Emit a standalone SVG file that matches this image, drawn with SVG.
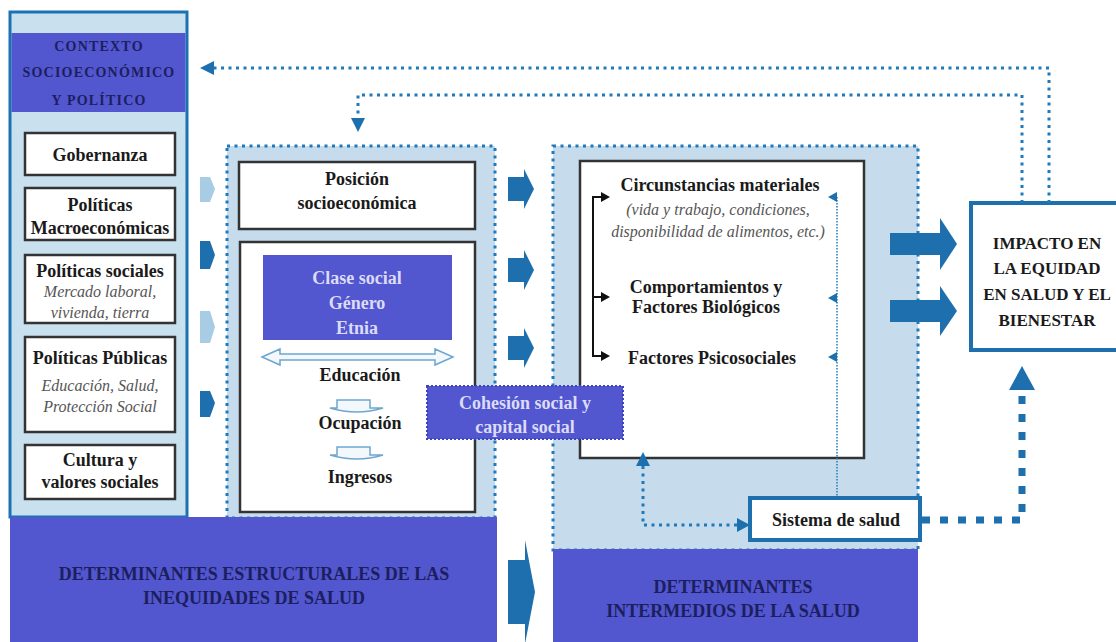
<svg xmlns="http://www.w3.org/2000/svg" width="1116" height="642" viewBox="0 0 1116 642">
<style>
.t{font-family:"Liberation Serif","Times New Roman",serif;font-weight:bold;font-size:18px;fill:#1a1a1a;text-anchor:middle}
.it{font-style:italic;font-weight:normal;font-size:16px;fill:#555}
.hd{fill:#1c1f5e}
.lv{fill:#dcdcf8}
.dot{fill:none;stroke:#2079bb;stroke-width:3;stroke-dasharray:3 4.5}
.wbox{fill:#fff;stroke:#333;stroke-width:2.5}
.purple{fill:#5256cf}
.arr{fill:#1d6fad}
.pale{fill:#a8cce4}
.lb{fill:#c6dcec}
.open{fill:#f2f8fc;stroke:#6fa6cf;stroke-width:1.5}
</style>
<rect width="1116" height="642" fill="#fff"/>

<!-- regions -->
<g id="region-middle">
<rect x="227" y="146" width="268" height="372" class="lb"/>
<rect x="227" y="146" width="268" height="372" class="dot"/>
</g>
<g id="region-right">
<rect x="553" y="146" width="365" height="404" class="lb"/>
<rect x="553" y="146" width="365" height="404" class="dot"/>
</g>

<!-- left column -->
<g id="contexto">
<rect x="10" y="12" width="177" height="505" fill="#c9e0ef" stroke="#1b72b3" stroke-width="3"/>
<rect x="11.5" y="33" width="174" height="79" class="purple"/>
<text class="t hd" style="font-size:14px;letter-spacing:1.2px" x="99" y="51">CONTEXTO</text>
<text class="t hd" style="font-size:14px;letter-spacing:1.2px" x="99" y="77">SOCIOECONÓMICO</text>
<text class="t hd" style="font-size:14px;letter-spacing:1.2px" x="99" y="105">Y POLÍTICO</text>
</g>
<g id="gobernanza">
<rect x="25" y="133" width="150" height="42" class="wbox"/>
<text class="t" x="100" y="161">Gobernanza</text>
</g>
<g id="macro">
<rect x="25" y="188" width="150" height="52" class="wbox"/>
<text class="t" x="100" y="211">Políticas</text>
<text class="t" x="100" y="234">Macroeconómicas</text>
</g>
<g id="sociales">
<rect x="25" y="255" width="150" height="68" class="wbox"/>
<text class="t" x="100" y="277">Políticas sociales</text>
<text class="t it" x="100" y="297">Mercado laboral,</text>
<text class="t it" x="100" y="318">vivienda, tierra</text>
</g>
<g id="publicas">
<rect x="25" y="337" width="150" height="95" class="wbox"/>
<text class="t" x="100" y="364">Políticas Públicas</text>
<text class="t it" x="100" y="391">Educación, Salud,</text>
<text class="t it" x="100" y="412">Protección Social</text>
</g>
<g id="cultura">
<rect x="25" y="445" width="150" height="54" class="wbox"/>
<text class="t" x="100" y="466">Cultura y</text>
<text class="t" x="100" y="488">valores sociales</text>
</g>

<!-- middle -->
<g id="posicion">
<rect x="239" y="162" width="236" height="67" class="wbox"/>
<text class="t" x="357" y="185">Posición</text>
<text class="t" x="357" y="209">socioeconómica</text>
</g>
<g id="estratificacion">
<rect x="240" y="242" width="235" height="270" class="wbox"/>
<rect x="263" y="255" width="189" height="85" class="purple"/>
<text class="t lv" x="357" y="284">Clase social</text>
<text class="t lv" x="357" y="309">Género</text>
<text class="t lv" x="357" y="334">Etnia</text>
<path class="open" d="M262,357 L280,349 V354 H435 V349 L453,357 L435,365 V360 H280 V365 Z"/>
<text class="t" x="360" y="381">Educación</text>
<path class="open" d="M337,400 H370 V408 H383 Q357,416 330,408 H337 Z"/>
<text class="t" x="360" y="429">Ocupación</text>
<path class="open" d="M337,447 H370 V455 H383 Q357,463 330,455 H337 Z"/>
<text class="t" x="360" y="483">Ingresos</text>
</g>

<!-- right -->
<g id="intermedios">
<rect x="580" y="161" width="284" height="297" class="wbox"/>
<text class="t" x="720" y="191">Circunstancias materiales</text>
<text class="t it" x="718" y="215">(vida y trabajo, condiciones,</text>
<text class="t it" x="718" y="237">disponibilidad de alimentos, etc.)</text>
<text class="t" x="706" y="293">Comportamientos y</text>
<text class="t" x="706" y="313">Factores Biológicos</text>
<text class="t" x="712" y="364">Factores Psicosociales</text>
</g>
<g id="cohesion">
<rect x="427" y="386" width="196" height="53" class="purple" stroke="#3f43c0" stroke-width="2" stroke-dasharray="2 2"/>
<text class="t lv" x="525" y="409">Cohesión social y</text>
<text class="t lv" x="525" y="433">capital social</text>
</g>
<g id="sistema">
<rect x="750" y="498" width="170" height="42" fill="#fff" stroke="#1d6fad" stroke-width="4"/>
<text class="t" x="836" y="526">Sistema de salud</text>
</g>
<g id="impacto">
<rect x="971" y="203" width="160" height="147" fill="#fff" stroke="#1d6fad" stroke-width="4"/>
<text class="t" style="font-size:17px" x="1047" y="249">IMPACTO EN</text>
<text class="t" style="font-size:17px" x="1047" y="274">LA EQUIDAD</text>
<text class="t" style="font-size:17px" x="1047" y="300">EN SALUD Y EL</text>
<text class="t" style="font-size:17px" x="1047" y="326">BIENESTAR</text>
</g>

<!-- bottom -->
<g id="estructurales">
<rect x="10" y="517" width="487" height="125" class="purple"/>
<text class="t hd" x="254" y="580">DETERMINANTES ESTRUCTURALES DE LAS</text>
<text class="t hd" x="254" y="604">INEQUIDADES DE SALUD</text>
</g>
<g id="intermedios-label">
<rect x="553" y="549" width="365" height="93" class="purple"/>
<text class="t hd" x="733" y="593">DETERMINANTES</text>
<text class="t hd" x="733" y="617">INTERMEDIOS DE LA SALUD</text>
</g>

<!-- connectors -->
<g id="connectors">
<path class="pale" d="M200,177 H210 L215,189 L210,202 H200 Z"/>
<path class="arr" d="M200,241 H210 L215,255 L210,269 H200 Z"/>
<path class="pale" d="M200,311 H210 L215,327 L210,343 H200 Z"/>
<path class="arr" d="M200,391 H210 L215,403 L210,417 H200 Z"/>
<path class="arr" d="M508,177 H524 V169 L534,189 L524,209 V201 H508 Z"/>
<path class="arr" d="M508,258 H524 V250 L534,270 L524,290 V282 H508 Z"/>
<path class="arr" d="M508,336 H524 V328 L534,348 L524,368 V360 H508 Z"/>
<path class="arr" d="M508,560 H525 V540 L535,592 L525,644 V624 H508 Z"/>
<path class="arr" d="M890,233 H940 V218 L957,244 L940,270 V255 H890 Z"/>
<path class="arr" d="M890,300 H940 V286 L957,311 L940,336 V322 H890 Z"/>
<path class="dot" d="M1049,203 V68 H212"/>
<path class="arr" d="M200,68 L214,61 L214,75 Z"/>
<path class="dot" d="M1022,203 V95 H358 V118"/>
<path class="arr" d="M358,132 L351,118 L365,118 Z"/>
<path d="M603,197 H593 V356 H603 M593,297 H603" fill="none" stroke="#111" stroke-width="2"/>
<path d="M610,197 L601,192 L601,202 Z M610,297 L601,292 L601,302 Z M610,356 L601,351 L601,361 Z" fill="#111"/>
<path d="M837,197 V498" fill="none" stroke="#2079bb" stroke-width="1.5" stroke-dasharray="1.5 1.5"/>
<path d="M828,197 L837,192 L837,202 Z M828,298 L837,293 L837,303 Z M828,357 L837,352 L837,362 Z" fill="#1d6fad"/>
<path class="dot" d="M643,466 V525 H738"/>
<path class="arr" d="M643,452 L636,466 L650,466 Z"/>
<path class="arr" d="M750,525 L737,518 L737,532 Z"/>
<path d="M922,520 H1022 V392" fill="none" stroke="#1d6fad" stroke-width="7" stroke-dasharray="8 10"/>
<path class="arr" d="M1022,366 L1009,390 L1035,390 Z"/>
</g>
</svg>
